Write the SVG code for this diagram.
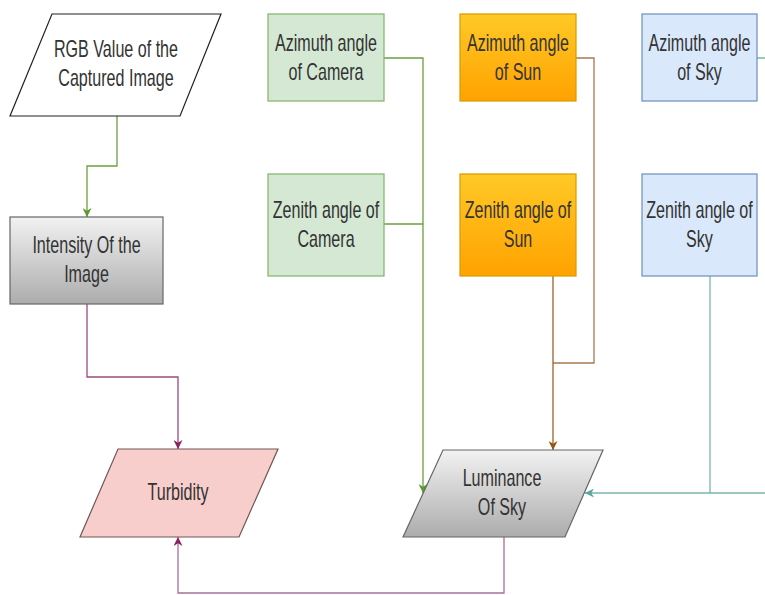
<svg xmlns="http://www.w3.org/2000/svg" width="765" height="595" viewBox="0 0 765 595">
<style>
.t{font-family:"Liberation Sans",Arial,sans-serif;font-size:23px;fill:#333;text-anchor:middle}
.c{fill:none;stroke-width:1.3}
.g{fill:#d5e8d4;stroke:#82b366;stroke-width:1.2}
.b{fill:#dae8fc;stroke:#6c8ebf;stroke-width:1.2}
.s{fill:url(#sun);stroke:#d79b00;stroke-width:1.2}
.gr{fill:url(#gray);stroke:#666;stroke-width:1.2}
</style>
<defs>
<linearGradient id="gray" x1="0" y1="0" x2="0" y2="1"><stop offset="0" stop-color="#f2f2f2"/><stop offset="1" stop-color="#acacac"/></linearGradient>
<linearGradient id="sun" x1="0" y1="0" x2="0" y2="1"><stop offset="0" stop-color="#ffc926"/><stop offset="1" stop-color="#ffa200"/></linearGradient>
<marker id="aG" viewBox="0 0 10 10" refX="10" refY="5" markerWidth="9" markerHeight="9" markerUnits="userSpaceOnUse" orient="auto"><path d="M0,0 L10,5 L0,10 L3,5 z" fill="#5d9a2a"/></marker>
<marker id="aP" viewBox="0 0 10 10" refX="10" refY="5" markerWidth="9" markerHeight="9" markerUnits="userSpaceOnUse" orient="auto"><path d="M0,0 L10,5 L0,10 L3,5 z" fill="#8c1f5e"/></marker>
<marker id="aB" viewBox="0 0 10 10" refX="10" refY="5" markerWidth="9" markerHeight="9" markerUnits="userSpaceOnUse" orient="auto"><path d="M0,0 L10,5 L0,10 L3,5 z" fill="#99520f"/></marker>
<marker id="aT" viewBox="0 0 10 10" refX="10" refY="5" markerWidth="9" markerHeight="9" markerUnits="userSpaceOnUse" orient="auto"><path d="M0,0 L10,5 L0,10 L3,5 z" fill="#5aa596"/></marker>
</defs>
<g id="connectors">
<path class="c" stroke="#6d9f3f" d="M117,116 V166 H87 V217" marker-end="url(#aG)"/>
<path class="c" stroke="#9c4a80" d="M87,304 V377 H178 V449" marker-end="url(#aP)"/>
<path class="c" stroke="#6d9f3f" d="M384,58 H423 V493" marker-end="url(#aG)"/>
<path class="c" stroke="#6d9f3f" d="M384,224 H423"/>
<path class="c" stroke="#a87a4e" d="M576,58 H594 V363 H553"/>
<path class="c" stroke="#a0602a" d="M553,276 V450" marker-end="url(#aB)"/>
<path class="c" stroke="#7bb5aa" d="M757,58 H780 V493 H585" marker-end="url(#aT)"/>
<path class="c" stroke="#7bb5aa" d="M710,276 V493"/>
<path class="c" stroke="#a8709a" d="M504,537 V593 H178 V537" marker-end="url(#aP)"/>
</g>
<g id="rgb">
<polygon points="52,14 221,14 180,116 10,116" fill="#fff" stroke="#222" stroke-width="1.2"/>
<text class="t" transform="translate(116,0) scale(0.7,1)"><tspan x="0" y="57">RGB Value of the</tspan><tspan x="0" y="86">Captured Image</tspan></text>
</g>
<g id="intensity">
<rect class="gr" x="10" y="217" width="153" height="87"/>
<text class="t" transform="translate(86.5,0) scale(0.7,1)"><tspan x="0" y="253">Intensity Of the</tspan><tspan x="0" y="282">Image</tspan></text>
</g>
<g id="az-camera">
<rect class="g" x="268" y="14" width="116" height="87"/>
<text class="t" transform="translate(326,0) scale(0.7,1)"><tspan x="0" y="51">Azimuth angle</tspan><tspan x="0" y="80">of Camera</tspan></text>
</g>
<g id="ze-camera">
<rect class="g" x="268" y="174" width="116" height="102"/>
<text class="t" transform="translate(326,0) scale(0.7,1)"><tspan x="0" y="218">Zenith angle of</tspan><tspan x="0" y="247">Camera</tspan></text>
</g>
<g id="az-sun">
<rect class="s" x="460" y="14" width="116" height="87"/>
<text class="t" transform="translate(518,0) scale(0.7,1)"><tspan x="0" y="51">Azimuth angle</tspan><tspan x="0" y="80">of Sun</tspan></text>
</g>
<g id="ze-sun">
<rect class="s" x="460" y="174" width="116" height="102"/>
<text class="t" transform="translate(518,0) scale(0.7,1)"><tspan x="0" y="218">Zenith angle of</tspan><tspan x="0" y="247">Sun</tspan></text>
</g>
<g id="az-sky">
<rect class="b" x="642" y="14" width="115" height="87"/>
<text class="t" transform="translate(699.5,0) scale(0.7,1)"><tspan x="0" y="51">Azimuth angle</tspan><tspan x="0" y="80">of Sky</tspan></text>
</g>
<g id="ze-sky">
<rect class="b" x="642" y="174" width="115" height="102"/>
<text class="t" transform="translate(699.5,0) scale(0.7,1)"><tspan x="0" y="218">Zenith angle of</tspan><tspan x="0" y="247">Sky</tspan></text>
</g>
<g id="turbidity">
<polygon points="118,449 278,449 239,537 80,537" fill="#f8cecc" stroke="#6e5656" stroke-width="1.2"/>
<text class="t" transform="translate(178,0) scale(0.7,1)" x="0" y="500">Turbidity</text>
</g>
<g id="luminance">
<polygon class="gr" points="443,450 603,450 565,537 403,537"/>
<text class="t" transform="translate(502,0) scale(0.7,1)"><tspan x="0" y="486">Luminance</tspan><tspan x="0" y="515">Of Sky</tspan></text>
</g>
</svg>
